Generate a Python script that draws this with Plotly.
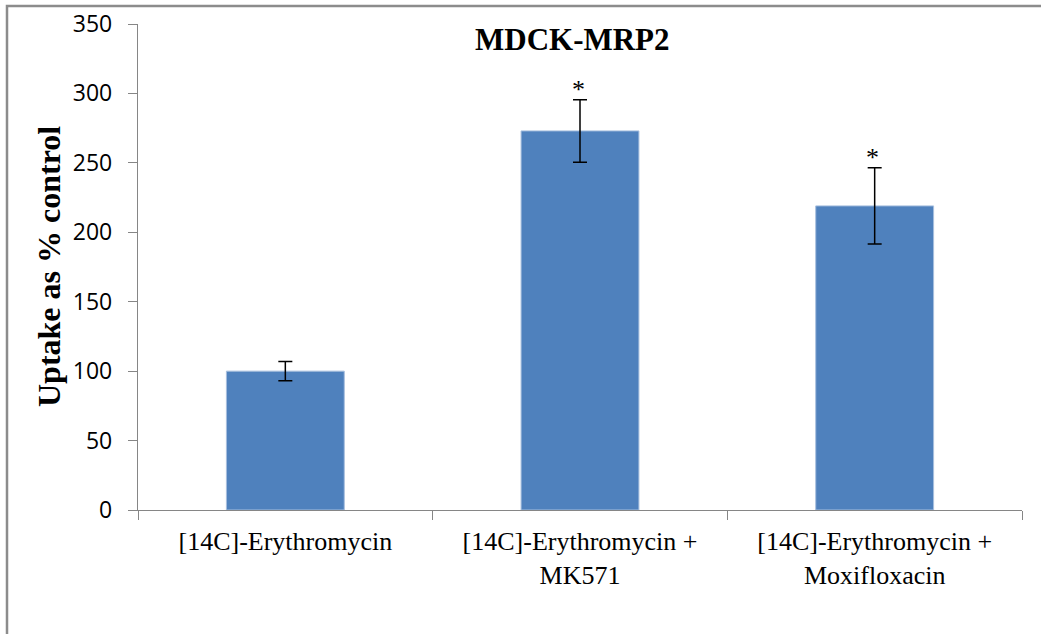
import plotly.graph_objects as go

categories = ["[14C]-Erythromycin", "[14C]-Erythromycin +<br>MK571", "[14C]-Erythromycin +<br>Moxifloxacin"]
values = [100, 273, 219]
errors = [7, 22.5, 27.5]
significance = ["", "*", "*"]
y_ticks = [0, 50, 100, 150, 200, 250, 300, 350]
title_text = "MDCK-MRP2"
y_title = "Uptake as % control"

W, H = 1041, 634
L, R, T, B = 138, 19, 24, 124
pw, ph = W - L - R, H - T - B

fig = go.Figure()
fig.add_trace(go.Bar(
    x=categories, y=values, width=0.4,
    marker=dict(color="#4F81BD", line=dict(color="#A7BFDE", width=1)),
    error_y=dict(type="data", array=errors, visible=True, color="#000000", thickness=1.5, width=7),
    showlegend=False,
))

for c, v, e, s in zip(categories, values, errors, significance):
    if s:
        fig.add_annotation(x=c, y=v + e, text=s, showarrow=False, yanchor="bottom",
                           yshift=-6, xshift=-2,
                           font=dict(family="Liberation Serif", size=26, color="#000000"))

fig.add_annotation(xref="paper", yref="paper", x=(572 - L) / pw, y=(H - B - 40) / ph,
                   text="<b>%s</b>" % title_text, showarrow=False, xanchor="center", yanchor="middle",
                   font=dict(family="Liberation Serif", size=31, color="#000000"))
fig.add_annotation(xref="paper", yref="paper", x=(49 - L) / pw, y=(H - B - 267) / ph,
                   text="<b>%s</b>" % y_title, showarrow=False, textangle=-90,
                   xanchor="center", yanchor="middle",
                   font=dict(family="Liberation Serif", size=32, color="#000000"))

# outer chart border
fig.add_shape(type="rect", xref="paper", yref="paper",
              x0=(7 - L) / pw, x1=(W + 20 - L) / pw,
              y0=-(B + 20) / ph, y1=(H - B - 6) / ph,
              line=dict(color="#8C8C8C", width=2.5), fillcolor="rgba(0,0,0,0)", layer="below")

fig.update_layout(
    width=W, height=H,
    margin=dict(l=L, r=R, t=T, b=B, pad=0, autoexpand=False),
    paper_bgcolor="white", plot_bgcolor="white",
    bargap=0.6,
)
fig.update_xaxes(
    type="category", showline=True, linecolor="#868686", linewidth=1.3,
    ticks="outside", tickson="boundaries", ticklen=9, tickcolor="#868686", tickwidth=1.3,
    tickfont=dict(family="Liberation Serif", size=26, color="#000000"),
    ticklabelstandoff=8, automargin=False,
    showgrid=False, zeroline=False,
)
fig.update_yaxes(
    range=[0, 350], tickvals=y_ticks, showline=True, linecolor="#868686", linewidth=1.3,
    ticks="outside", ticklen=9, tickcolor="#868686", tickwidth=1.3,
    tickfont=dict(family="Open Sans", size=23, color="#000000"),
    ticklabelstandoff=11, automargin=False,
    showgrid=False, zeroline=False,
)

fig.write_html("out.html")
